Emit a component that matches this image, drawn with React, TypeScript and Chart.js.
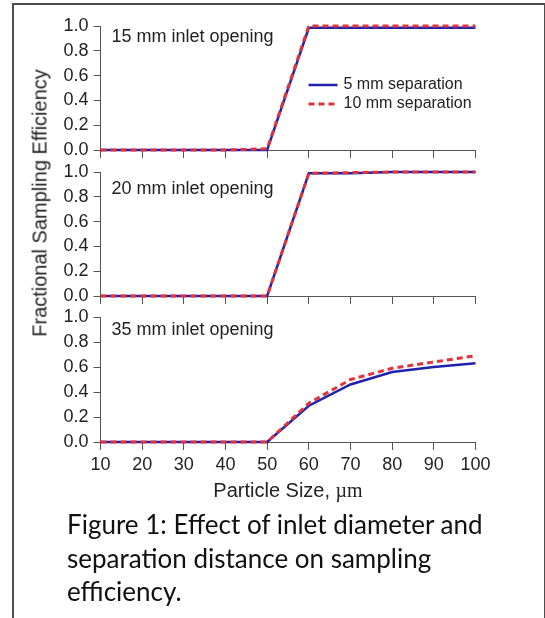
import React, { useEffect, useRef } from "react";
import { Chart, registerables } from "chart.js";

Chart.register(...registerables);

// Particle sizes (µm) on the shared x axis
const particleSizes = [10, 20, 30, 40, 50, 60, 70, 80, 90, 100];
const yTickValues = [0, 0.2, 0.4, 0.6, 0.8, 1.0];

// Fractional sampling efficiency, one pair of series per inlet opening
const inlet15Sep5 = [0, 0, 0, 0, 0, 0.985, 0.985, 0.985, 0.985, 0.985];
const inlet15Sep10 = [0, 0, 0, 0, 0.01, 1.0, 1.0, 1.0, 1.0, 1.0];
const inlet20Sep5 = [0, 0, 0, 0, 0, 0.99, 0.99, 1.0, 1.0, 1.0];
const inlet20Sep10 = [0, 0, 0, 0, 0, 0.99, 0.995, 1.0, 1.0, 1.0];
const inlet35Sep5 = [0, 0, 0, 0, 0, 0.29, 0.46, 0.56, 0.6, 0.63];
const inlet35Sep10 = [0, 0, 0, 0, 0, 0.31, 0.5, 0.59, 0.64, 0.69];

const seriesLabels = ["5 mm separation", "10 mm separation"];
const panelNotes = ["15 mm inlet opening", "20 mm inlet opening", "35 mm inlet opening"];

const W = 545;
const H = 618;
const PLOT_LEFT = 100.5;
const PLOT_RIGHT = 475.5;
const BLUE = "#2121ad";
const RED = "#e0333a";
const AXIS = "#555555";
const INK = "#222222";
const SANS = "'Liberation Sans', Arial, sans-serif";

type PanelSpec = {
  note: string;
  sep5: number[];
  sep10: number[];
  top: number;
  bottom: number;
  noteDy: number;
  showXLabels: boolean;
  showLegend: boolean;
};

const panels: PanelSpec[] = [
  { note: panelNotes[0], sep5: inlet15Sep5, sep10: inlet15Sep10, top: 26, bottom: 150, noteDy: 11, showXLabels: false, showLegend: true },
  { note: panelNotes[1], sep5: inlet20Sep5, sep10: inlet20Sep10, top: 172, bottom: 296, noteDy: 17, showXLabels: false, showLegend: false },
  { note: panelNotes[2], sep5: inlet35Sep5, sep10: inlet35Sep10, top: 317, bottom: 442, noteDy: 13, showXLabels: true, showLegend: false },
];

// Draws the panel caption inside the plot and, for the first panel, the series key
const panelDecor = {
  id: "panelDecor",
  afterDatasetsDraw(chart: any, _args: any, opts: any) {
    const { ctx, chartArea } = chart;
    ctx.save();
    ctx.fillStyle = INK;
    ctx.textBaseline = "middle";
    ctx.textAlign = "left";
    ctx.font = `18px ${SANS}`;
    ctx.fillText(opts.note, chartArea.left + 11, chartArea.top + opts.noteDy);
    if (opts.showLegend) {
      const x0 = chartArea.left + 208;
      const sampleLen = 29;
      chart.data.datasets.forEach((ds: any, i: number) => {
        const yy = chartArea.top + 59 + i * 19;
        ctx.beginPath();
        ctx.strokeStyle = ds.borderColor;
        ctx.lineWidth = ds.borderWidth;
        ctx.setLineDash(ds.borderDash || []);
        ctx.moveTo(x0, yy);
        ctx.lineTo(x0 + sampleLen, yy);
        ctx.stroke();
        ctx.setLineDash([]);
        ctx.font = `16px ${SANS}`;
        ctx.fillStyle = INK;
        ctx.fillText(ds.label, x0 + sampleLen + 6, yy);
      });
    }
    ctx.restore();
  },
};

function buildConfig(p: PanelSpec): any {
  const xAxisH = p.showXLabels ? 34 : 10;
  return {
    type: "line",
    data: {
      datasets: [
        {
          label: seriesLabels[0],
          data: particleSizes.map((x, i) => ({ x, y: p.sep5[i] })),
          borderColor: BLUE,
          borderWidth: 2.5,
          pointRadius: 0,
          tension: 0,
          clip: false,
          order: 2,
        },
        {
          label: seriesLabels[1],
          data: particleSizes.map((x, i) => ({ x, y: p.sep10[i] })),
          borderColor: RED,
          borderWidth: 3,
          borderDash: [6, 4],
          pointRadius: 0,
          tension: 0,
          clip: false,
          order: 1,
        },
      ],
    },
    options: {
      animation: false,
      responsive: false,
      maintainAspectRatio: false,
      devicePixelRatio: 1,
      events: [],
      layout: {
        padding: { left: 0, top: p.top, right: W - PLOT_RIGHT, bottom: H - p.bottom - xAxisH },
      },
      plugins: {
        legend: { display: false },
        tooltip: { enabled: false },
        title: { display: false },
        panelDecor: { note: p.note, noteDy: p.noteDy, showLegend: p.showLegend },
      },
      scales: {
        x: {
          type: "linear",
          min: 10,
          max: 100,
          afterBuildTicks: (scale: any) => {
            scale.ticks = particleSizes.map((v) => ({ value: v }));
          },
          afterFit: (scale: any) => {
            scale.height = xAxisH;
          },
          ticks: {
            display: p.showXLabels,
            color: INK,
            padding: 4,
            maxRotation: 0,
            autoSkip: false,
            font: { family: SANS, size: 18 },
          },
          grid: { drawOnChartArea: false, drawTicks: true, tickLength: 8, color: AXIS, lineWidth: 1 },
          border: { display: true, color: AXIS, width: 1 },
        },
        y: {
          type: "linear",
          min: 0,
          max: 1,
          afterBuildTicks: (scale: any) => {
            scale.ticks = yTickValues.map((v) => ({ value: v }));
          },
          afterFit: (scale: any) => {
            scale.width = PLOT_LEFT;
          },
          ticks: {
            color: INK,
            padding: 5,
            font: { family: SANS, size: 18 },
            callback: (v: any) => Number(v).toFixed(1),
          },
          grid: { drawOnChartArea: false, drawTicks: true, tickLength: 7, color: AXIS, lineWidth: 1 },
          border: { display: true, color: AXIS, width: 1 },
        },
      },
    },
    plugins: [panelDecor],
  };
}

function PanelChart({ spec }: { spec: PanelSpec }) {
  const ref = useRef<HTMLCanvasElement>(null);
  useEffect(() => {
    if (!ref.current) return;
    const chart = new Chart(ref.current, buildConfig(spec));
    return () => chart.destroy();
  }, [spec]);
  return (
    <canvas
      ref={ref}
      width={W}
      height={H}
      style={{ position: "absolute", left: 0, top: 0, width: W, height: H }}
    />
  );
}

export default function App() {
  return (
    <div
      style={{
        position: "absolute",
        left: 0,
        top: 0,
        width: W,
        height: H,
        overflow: "hidden",
        background: "#ffffff",
      }}
    >
      <div
        style={{
          position: "absolute",
          left: 12,
          top: 3,
          width: 530,
          height: 640,
          borderLeft: "2px solid #4d4d4d",
          borderTop: "2px solid #4d4d4d",
          borderRight: "2px solid #4d4d4d",
        }}
      />
      {panels.map((p, i) => (
        <PanelChart key={i} spec={p} />
      ))}
      <div
        style={{
          position: "absolute",
          left: 40,
          top: 203,
          transform: "translate(-50%, -50%) rotate(-90deg)",
          whiteSpace: "nowrap",
          font: `20px ${SANS}`,
          color: INK,
        }}
      >
        Fractional Sampling Efficiency
      </div>
      <div
        style={{
          position: "absolute",
          left: 288,
          top: 490,
          transform: "translate(-50%, -50%)",
          whiteSpace: "nowrap",
          font: `20px ${SANS}`,
          color: INK,
        }}
      >
        Particle Size, <span style={{ fontFamily: "'Liberation Serif', serif" }}>µm</span>
      </div>
      <div
        style={{
          position: "absolute",
          left: 67,
          top: 508,
          font: "26px Lato, sans-serif",
          lineHeight: "33.5px",
          color: "#111111",
          whiteSpace: "nowrap",
        }}
      >
        <div>Figure 1: Effect of inlet diameter and</div>
        <div>separation distance on sampling</div>
        <div>efficiency.</div>
      </div>
    </div>
  );
}
